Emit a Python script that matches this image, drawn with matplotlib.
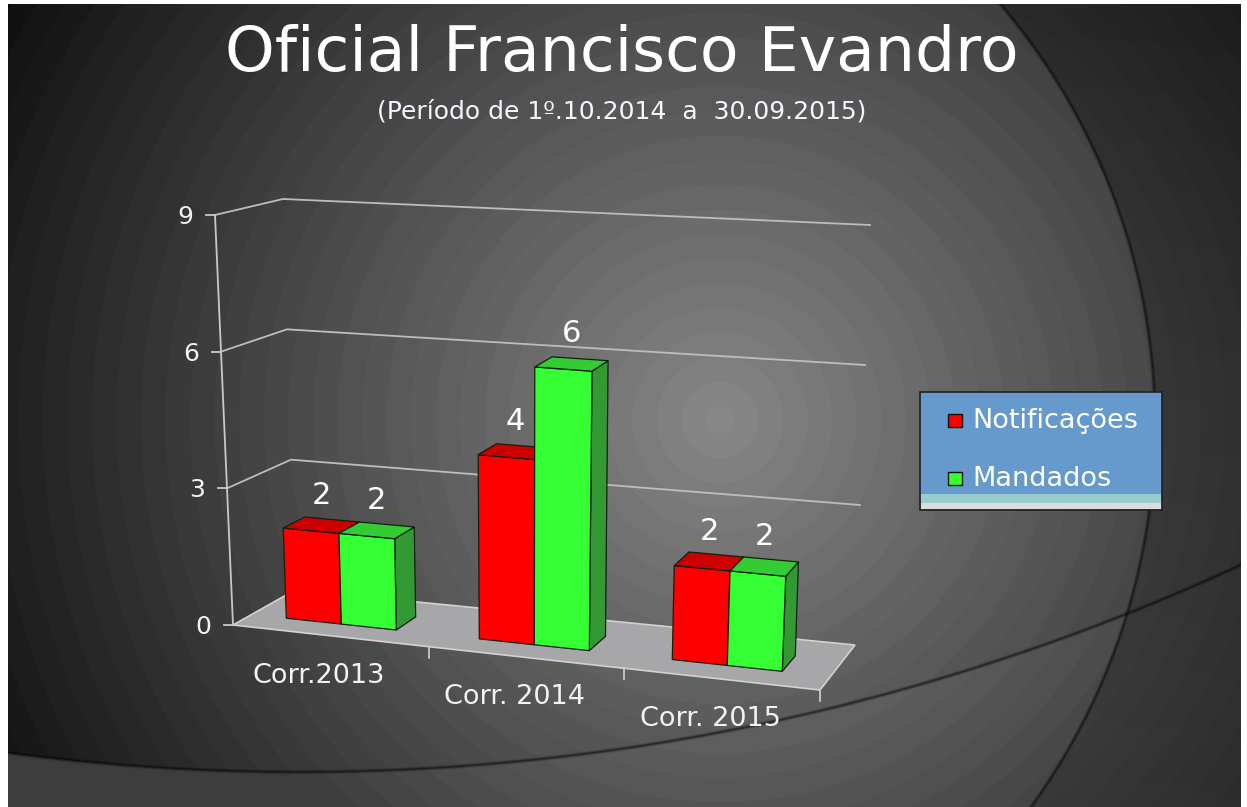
import numpy as np
import matplotlib
matplotlib.use("Agg")
import matplotlib.pyplot as plt
from matplotlib.patches import Polygon, Rectangle

# data
categories = ["Corr.2013", "Corr. 2014", "Corr. 2015"]
series_names = ["Notificações", "Mandados"]
notificacoes = [2, 4, 2]
mandados = [2, 6, 2]
y_ticks = [0, 3, 6, 9]

title = "Oficial Francisco Evandro"
subtitle = "(Período de 1º.10.2014  a  30.09.2015)"

W, H = 1247, 807
VMAX = 9

# screen position of the 3D box corners [x][depth][value]
CORNERS = np.array([
    [[(233, 625), (215, 215)], [(295, 590), (283, 199)]],
    [[(820, 690), (840, 256)], [(855, 645), (870, 225)]],
], dtype=float)


def proj(x, d, v):
    """Trilinear projection of (category fraction, depth, value) to pixels."""
    t = v / VMAX
    p = np.zeros(2)
    for i, wx in ((0, 1 - x), (1, x)):
        for j, wd in ((0, 1 - d), (1, d)):
            for k, wv in ((0, 1 - t), (1, t)):
                p += wx * wd * wv * CORNERS[i, j, k]
    return p


fig = plt.figure(figsize=(W / 100, H / 100), dpi=100)
fig.patch.set_facecolor("white")
ax = fig.add_axes([0, 0, 1, 1])

# background: stepped radial gradient with two dark arcs
yy, xx = np.mgrid[0:H, 0:W] + 0.5
r = np.hypot(xx - 720, yy - 420)
base = 0.54 - 0.00057 * r
base = np.floor(base / 0.014) * 0.014
lum = base.copy()
d_low = np.hypot(xx - 300, yy + 1468)
below = d_low > 2240
lum[below] = np.maximum(base[below] + 0.02, 0.24)
d_arc = np.hypot(xx - 505, yy - 425)
right = d_arc > 650
lum[right] = 0.58 * base[right] + 0.02 + 0.06 * yy[right] / H
lum *= 1 - 0.55 * np.exp(-((d_low - 2240) / 1.6) ** 2)
lum *= 1 - 0.55 * np.exp(-((d_arc - 650) / 1.6) ** 2)
lum = np.clip(lum, 0, 1)
lum[(xx < 8) | (xx > 1241) | (yy < 4)] = 1.0
ax.imshow(np.dstack([lum] * 3), extent=(0, W, H, 0),
          interpolation="nearest", aspect="auto", zorder=0)

ax.set_xlim(0, W)
ax.set_ylim(H, 0)
ax.axis("off")

# floor
floor = [proj(0, 0, 0), proj(1, 0, 0), proj(1, 1, 0), proj(0, 1, 0)]
ax.add_patch(Polygon(floor, closed=True, facecolor="#a7a7a9",
                     edgecolor="#d2d2d2", lw=1.2, zorder=2))

# gridlines on the walls
for v in y_ticks[1:]:
    pts = np.array([proj(0, 0, v), proj(0, 1, v), proj(1, 1, v)])
    ax.plot(pts[:, 0], pts[:, 1], color="#bdbdbd", lw=1.3, zorder=1)

# value axis
a0, a1 = proj(0, 0, 0), proj(0, 0, VMAX)
ax.plot([a0[0], a1[0]], [a0[1], a1[1]], color="#c8c8c8", lw=1.3, zorder=3)
for v in y_ticks:
    p = proj(0, 0, v)
    ax.plot([p[0] - 9, p[0]], [p[1], p[1]], color="#c8c8c8", lw=1.3, zorder=3)
    ax.text(p[0] - 22, p[1] + 2, str(v), color="#f2f2f2", fontsize=18,
            ha="right", va="center", zorder=5)

# category ticks and labels
for k in range(1, len(categories) + 1):
    p = proj(k / len(categories), 0, 0)
    ax.plot([p[0], p[0]], [p[1], p[1] + 11], color="#d2d2d2", lw=1.2, zorder=3)
for i, cat in enumerate(categories):
    p = proj((i + 0.5) / len(categories), 0, 0)
    ax.text(p[0] - 12, p[1] + 40, cat, color="#f2f2f2", fontsize=19.5,
            ha="center", va="center", zorder=5)

# bars
front_cols = ["#ff0000", "#33ff33"]
top_cols = ["#cc0000", "#33cc33"]
side_cols = ["#990000", "#339933"]
start, bw = 0.18, 0.285
d0, d1 = 0.30, 0.65
n = len(categories)
for i in range(n):
    for s, vals in enumerate([notificacoes, mandados]):
        h = vals[i]
        x0 = (i + start + s * bw) / n
        x1 = (i + start + (s + 1) * bw) / n
        faces = [
            ([proj(x1, d0, 0), proj(x1, d1, 0), proj(x1, d1, h), proj(x1, d0, h)], side_cols[s]),
            ([proj(x0, d0, 0), proj(x1, d0, 0), proj(x1, d0, h), proj(x0, d0, h)], front_cols[s]),
            ([proj(x0, d0, h), proj(x1, d0, h), proj(x1, d1, h), proj(x0, d1, h)], top_cols[s]),
        ]
        for verts, col in faces:
            ax.add_patch(Polygon(verts, closed=True, facecolor=col,
                                 edgecolor="#102010", lw=0.9, zorder=4))
        c = proj((x0 + x1) / 2, (d0 + d1) / 2, h)
        ax.text(c[0], c[1] - 30, str(h), color="white", fontsize=22,
                ha="center", va="center", zorder=6)

# titles
ax.text(622, 54, title, color="white", fontsize=45.5, ha="center",
        va="center", zorder=6)
ax.text(622, 111, subtitle, color="#f4f6ff", fontsize=18, ha="center",
        va="center", zorder=6)

# legend
ax.add_patch(Rectangle((920, 392), 242, 118, facecolor="#6699cc",
                       edgecolor="#202020", lw=1.2, zorder=5))
ax.add_patch(Rectangle((921, 494), 240, 9, facecolor="#99cccc",
                       edgecolor="none", zorder=5))
ax.add_patch(Rectangle((921, 503), 240, 6, facecolor="#dcdcdc",
                       edgecolor="none", zorder=5))
for k, name in enumerate(series_names):
    ym = 421 + k * 58
    ax.add_patch(Rectangle((948, ym - 7), 14, 13, facecolor=front_cols[k],
                           edgecolor="#101010", lw=1, zorder=6))
    ax.text(972, ym, name, color="white", fontsize=19.5, ha="left",
            va="center", zorder=6)

fig.savefig("out.png", dpi=100, facecolor=fig.get_facecolor())
plt.close(fig)
